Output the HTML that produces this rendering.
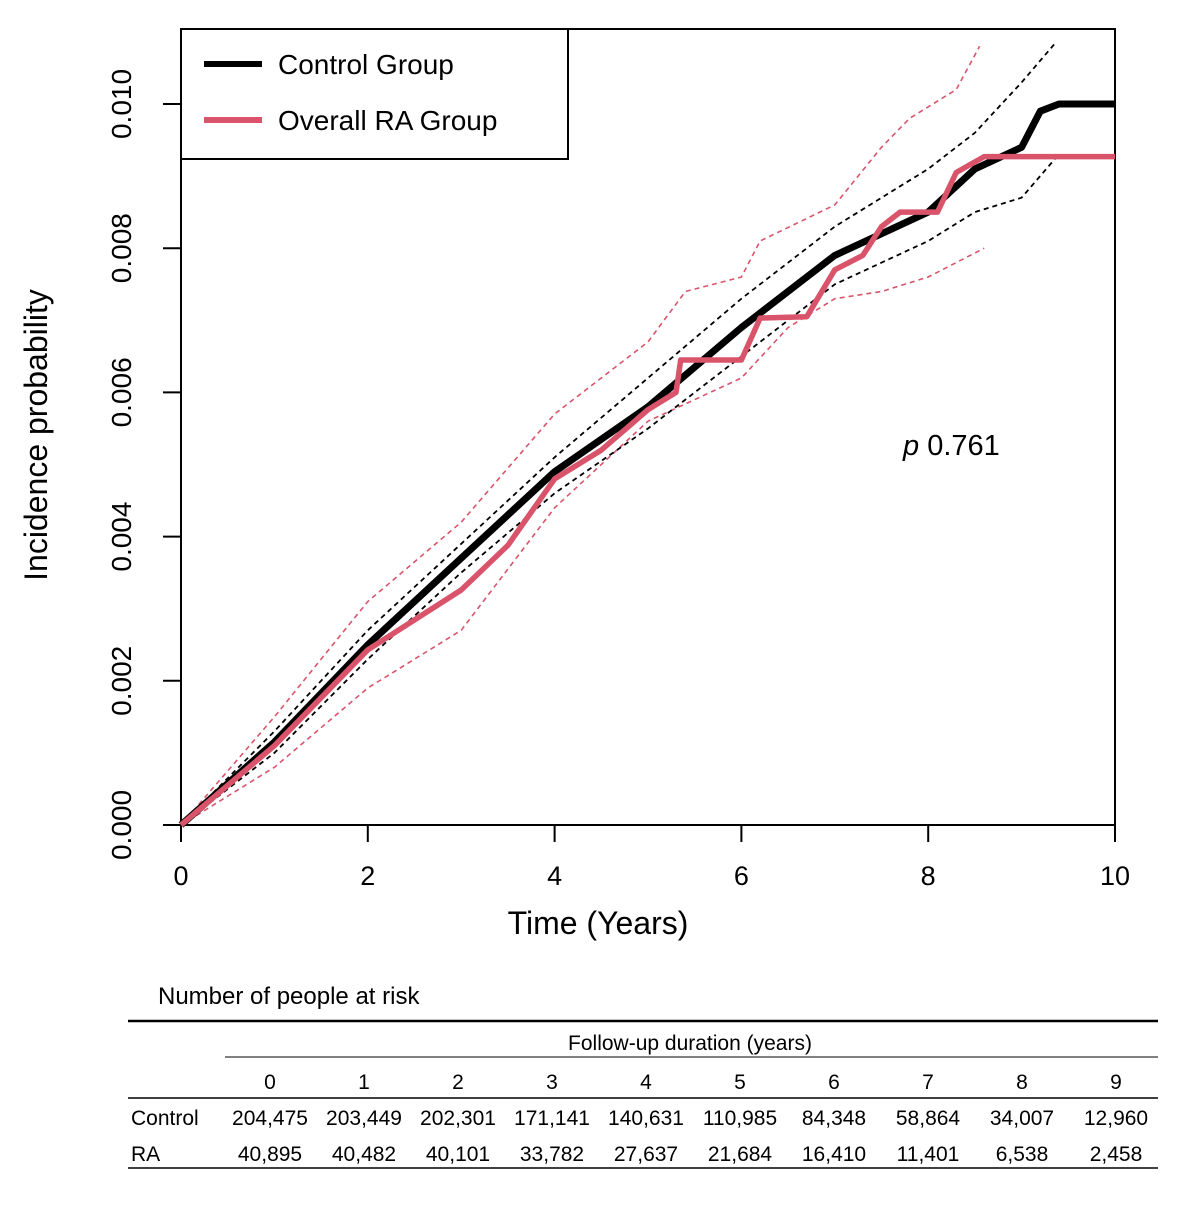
<!DOCTYPE html>
<html><head><meta charset="utf-8"><style>
body{margin:0;background:#fff;}
svg text{font-family:"Liberation Sans",sans-serif;}
</style></head><body>
<svg width="1200" height="1200" viewBox="0 0 1200 1200" xmlns="http://www.w3.org/2000/svg">
<g id="plot"></g>
<g id="table"></g>
</svg>
<script>
const ctrlT=[0,1,2,3,4,5,6,7,8,8.5,9,9.2,9.4,10];
const ctrlP=[0,0.00115,0.0025,0.0037,0.0049,0.0058,0.0069,0.0079,0.0085,0.0091,0.0094,0.0099,0.0100,0.0100];
const raT=[0,1,2,3,3.5,4,4.5,5,5.3,5.35,6.0,6.2,6.7,7,7.3,7.5,7.7,8.1,8.3,8.6,10];
const raP=[0,0.0011,0.00243,0.00326,0.00388,0.0048,0.0052,0.00576,0.0060,0.00645,0.00645,0.00703,0.00705,0.0077,0.0079,0.0083,0.0085,0.0085,0.00905,0.00927,0.00927];
const ctrlUpT=[0,1,2,3,4,5,6,7,8,8.5,9,9.37];
const ctrlUpP=[0,0.0013,0.0027,0.0039,0.0051,0.0062,0.0073,0.0083,0.0091,0.0096,0.0103,0.01086];
const ctrlLoT=[0,1,2,3,4,5,6,7,8,8.5,9,9.37];
const ctrlLoP=[0,0.0010,0.0023,0.0035,0.0046,0.0055,0.0065,0.0075,0.0081,0.0085,0.0087,0.00926];
const raUpT=[0,1,2,3,4,5,5.4,6,6.2,7,7.5,7.8,8.3,8.55];
const raUpP=[0,0.0015,0.0031,0.0042,0.0057,0.0067,0.0074,0.0076,0.0081,0.0086,0.0094,0.0098,0.0102,0.0108];
const raLoT=[0,1,2,3,4,5,6,6.5,7,7.5,8,8.6];
const raLoP=[0,0.0008,0.0019,0.0027,0.0044,0.0056,0.0062,0.0069,0.0073,0.0074,0.0076,0.0080];
const xTicks=[0,2,4,6,8,10];
const yTicks=[0,0.002,0.004,0.006,0.008,0.010];
const tableYears=["0","1","2","3","4","5","6","7","8","9"];
const ctrlRisk=["204,475","203,449","202,301","171,141","140,631","110,985","84,348","58,864","34,007","12,960"];
const raRisk=["40,895","40,482","40,101","33,782","27,637","21,684","16,410","11,401","6,538","2,458"];

const NS="http://www.w3.org/2000/svg";
const X=t=>181+t*93.4, Y=p=>825-p*72100;
function mk(par,tag,attrs,txt){const e=document.createElementNS(NS,tag);for(const k in attrs)e.setAttribute(k,attrs[k]);if(txt!==undefined)e.textContent=txt;par.appendChild(e);return e;}
const plot=document.getElementById('plot');
let e=mk(plot,'rect',{x:181,y:29,width:934,height:796,fill:'none',stroke:'#000','stroke-width':2});


xTicks.forEach(t=>{
 e=mk(plot,'line',{x1:X(t),x2:X(t),y1:825,y2:842,stroke:'#000','stroke-width':2});
 
 
 e=mk(plot,'text',{x:X(t),y:885,'font-size':27,'text-anchor':'middle'},String(t));
 
 
});
yTicks.forEach(p=>{
 e=mk(plot,'line',{x1:163,x2:181,y1:Y(p),y2:Y(p),stroke:'#000','stroke-width':2});
 
 
 e=mk(plot,'text',{x:0,y:0,'font-size':28,'text-anchor':'middle',transform:`translate(131,${Y(p)}) rotate(-90)`},p.toFixed(3));
 
 
});
e=mk(plot,'text',{x:598,y:934,'font-size':32,'text-anchor':'middle'},'Time (Years)');


e=mk(plot,'text',{x:0,y:0,'font-size':32,'text-anchor':'middle',transform:'translate(47,435) rotate(-90)'},'Incidence probability');


function line(ts,ps,color,w,dash,name){
 const pts=ts.map((t,i)=>X(t).toFixed(1)+','+Y(ps[i]).toFixed(1)).join(' ');
 const a={points:pts,fill:'none',stroke:color,'stroke-width':w,'stroke-linejoin':'round'};
 if(dash)a['stroke-dasharray']=dash;
 const el=mk(plot,'polyline',a);
 
 
}
line(raUpT,raUpP,'#d9546b',1.6,'5,4','ra-ci-upper');
line(raLoT,raLoP,'#d9546b',1.6,'5,4','ra-ci-lower');
line(ctrlUpT,ctrlUpP,'#000',1.8,'5,4','control-ci-upper');
line(ctrlLoT,ctrlLoP,'#000',1.8,'5,4','control-ci-lower');
line(ctrlT,ctrlP,'#000',7,null,'control-line');
line(raT,raP,'#d9546b',5.5,null,'ra-line');
e=mk(plot,'text',{x:903,y:455,'font-size':29},'');


mk(e,'tspan',{'font-style':'italic'},'p');mk(e,'tspan',{},' 0.761');
const lg=mk(plot,'g',{});


mk(lg,'rect',{x:181,y:29,width:387,height:130,fill:'#fff',stroke:'#000','stroke-width':2});
mk(lg,'line',{x1:204,x2:262,y1:64,y2:64,stroke:'#000','stroke-width':6});
mk(lg,'text',{x:278,y:74,'font-size':28},'Control Group');
mk(lg,'line',{x1:204,x2:262,y1:120,y2:120,stroke:'#d9546b','stroke-width':6});
mk(lg,'text',{x:278,y:130,'font-size':28},'Overall RA Group');

const tb=document.getElementById('table');
const tf='"Liberation Sans","Noto Sans CJK KR",sans-serif';
e=mk(tb,'text',{x:158,y:1004,'font-size':24,'font-family':tf},'Number of people at risk');


mk(tb,'line',{x1:128,x2:1158,y1:1021,y2:1021,stroke:'#000','stroke-width':2.5});
mk(tb,'text',{x:690,y:1050,'font-size':21,'text-anchor':'middle','font-family':tf},'Follow-up duration  (years)');
mk(tb,'line',{x1:225,x2:1158,y1:1057,y2:1057,stroke:'#000','stroke-width':1});
mk(tb,'line',{x1:128,x2:1158,y1:1098,y2:1098,stroke:'#000','stroke-width':1.5});
mk(tb,'line',{x1:128,x2:1158,y1:1168,y2:1168,stroke:'#000','stroke-width':1.5});
mk(tb,'text',{x:131,y:1125,'font-size':21,'font-family':tf},'Control');
mk(tb,'text',{x:131,y:1161,'font-size':21,'font-family':tf},'RA');
tableYears.forEach((y,i)=>{
 const cx=270+i*94;
 e=mk(tb,'text',{x:cx,y:1089,'font-size':21,'text-anchor':'middle','font-family':tf},y);
 
 
 e=mk(tb,'text',{x:cx,y:1125,'font-size':21,'text-anchor':'middle','font-family':tf},ctrlRisk[i]);
 
 
 e=mk(tb,'text',{x:cx,y:1161,'font-size':21,'text-anchor':'middle','font-family':tf},raRisk[i]);
 
 
});
</script>
</body></html>
